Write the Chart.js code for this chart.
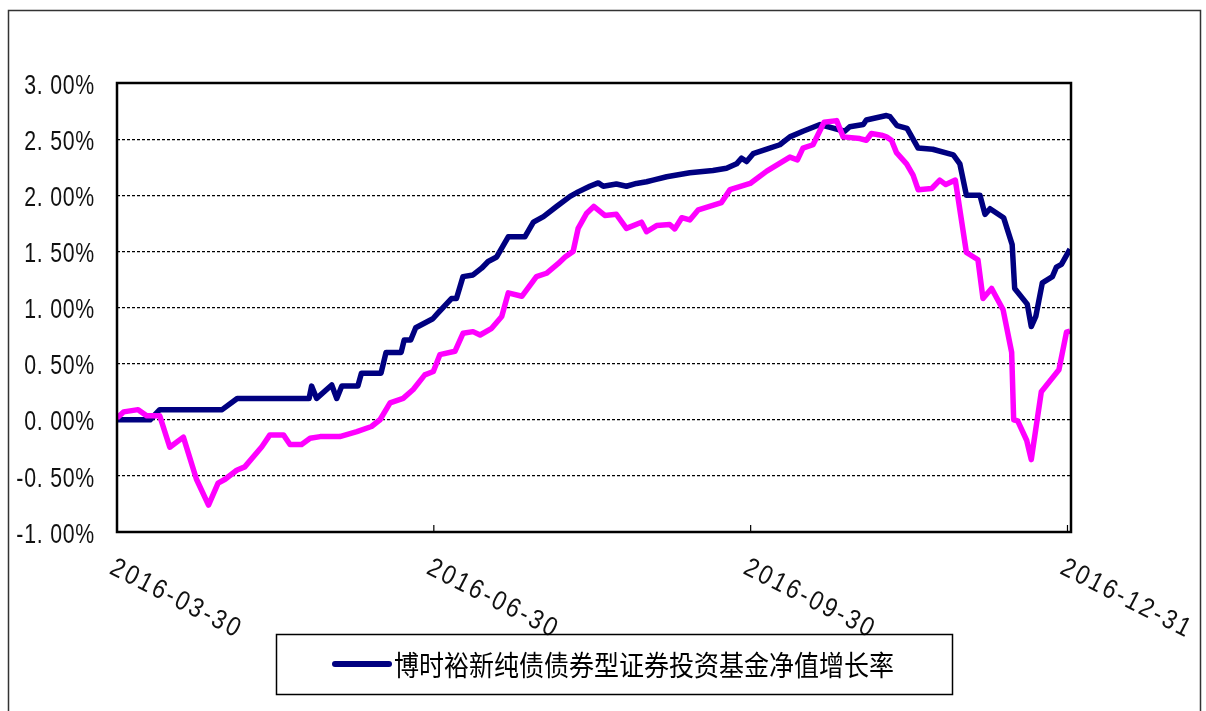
<!DOCTYPE html>
<html>
<head>
<meta charset="utf-8">
<script src="https://cdn.jsdelivr.net/npm/chart.js@4"></script>
<style>
html,body{margin:0;padding:0;background:#fff;}
#wrap{width:1206px;height:711px;position:relative;}
</style>
</head>
<body>
<div id="wrap"><canvas id="c" width="1206" height="711"></canvas></div>
<script>
// ---- data (percent, x = trading-day index from 2016-03-30) ----
const tickDates = ['2016-03-30', '2016-06-30', '2016-09-30', '2016-12-31'];
const tickPos = [0, 63, 126, 189];
const xMax = 189.7;

const fundLabel = '博时裕新纯债债券型证券投资基金净值增长率';
const benchLabel = '业绩比较基准收益率';

const fundX = [0,6.6,8.5,20.9,23.9,38.2,38.7,39.7,42.7,43.7,44.7,47.9,48.6,52.5,53.5,56.5,57.1,58.4,59.4,62.8,
  63.8,66.5,67.5,68.8,70.8,72.5,73.8,75.5,77.8,81.1,82.8,84.8,87.4,90.1,91.7,94.0,95.7,96.7,99.3,101.3,
  103.3,105.3,106.6,109.3,111.3,113.9,118.5,121.2,123.2,124.2,125.2,126.5,129.2,131.8,133.8,136.4,139.8,144.7,145.7,148.4,
  149.0,153.0,153.7,155.1,157.1,159.3,162.2,166.3,167.6,168.9,171.6,172.6,173.6,176.3,178.0,178.5,181.0,181.8,182.7,184.0,
  186.0,186.8,187.8,189.5];
const fundY = [0,0,0.09,0.09,0.19,0.19,0.30,0.19,0.31,0.19,0.30,0.30,0.415,0.415,0.60,0.60,0.71,0.71,0.82,0.90,
  0.95,1.08,1.08,1.275,1.29,1.35,1.41,1.45,1.63,1.63,1.76,1.81,1.90,1.99,2.03,2.08,2.11,2.08,2.10,2.08,
  2.105,2.12,2.135,2.165,2.18,2.20,2.22,2.24,2.28,2.33,2.30,2.37,2.41,2.45,2.52,2.57,2.63,2.57,2.61,2.63,
  2.67,2.71,2.70,2.62,2.595,2.42,2.41,2.36,2.28,2.00,2.00,1.83,1.88,1.80,1.56,1.17,1.03,0.83,0.92,1.22,
  1.275,1.36,1.385,1.52];

const benchX = [0,1.3,4.2,5.9,8.5,10.5,13.2,15.8,18.2,20.1,21.5,23.8,25.4,28.8,30.4,33.1,34.4,36.7,38.4,40.4,
  44.3,47.7,50.6,52.3,54.3,56.9,58.9,61.2,62.9,64.2,67.2,68.8,70.8,72.2,74.5,76.5,77.8,80.5,83.4,85.4,
  87.7,89.1,90.7,91.7,93.4,94.8,97.0,99.3,101.3,104.3,105.3,107.3,109.9,110.9,112.3,113.9,115.6,120.2,121.9,125.9,
  129.2,133.8,135.3,136.4,138.4,140.6,143.1,144.4,147.7,149.0,150.0,152.0,153.0,154.0,155.0,157.0,158.3,159.3,162.0,163.6,
  164.8,166.7,168.9,171.2,172.2,173.9,176.2,177.9,178.3,179.1,180.9,181.8,183.8,187.3,188.8,189.5];
const benchY = [0.015,0.07,0.09,0.035,0.035,-0.245,-0.155,-0.53,-0.76,-0.565,-0.53,-0.45,-0.42,-0.24,-0.135,-0.135,-0.22,-0.22,-0.165,-0.15,
  -0.15,-0.105,-0.06,0.00,0.15,0.19,0.27,0.40,0.43,0.58,0.61,0.77,0.785,0.755,0.815,0.92,1.13,1.10,1.275,1.305,
  1.39,1.45,1.50,1.705,1.84,1.90,1.82,1.83,1.705,1.76,1.675,1.73,1.74,1.70,1.80,1.78,1.87,1.935,2.05,2.105,
  2.215,2.34,2.315,2.42,2.45,2.65,2.665,2.52,2.505,2.49,2.55,2.535,2.52,2.49,2.38,2.28,2.18,2.05,2.06,2.135,
  2.095,2.135,1.49,1.425,1.08,1.17,0.98,0.60,0.00,-0.01,-0.185,-0.355,0.25,0.445,0.78,0.79];

const yMin = -1, yMax = 3, yStep = 0.5;

// ---- decoration plugin: plot frame, tick labels (condensed), legend box ----
const decor = {
  id: 'decor',
  afterDraw(chart) {
    const {ctx, chartArea: a} = chart;
    const xs = chart.scales.x;
    const ys = chart.scales.y;
    ctx.save();
    // outer frame
    ctx.strokeStyle = '#333';
    ctx.lineWidth = 1.5;
    ctx.beginPath();
    ctx.moveTo(8.5, 720); ctx.lineTo(8.5, 10.5); ctx.lineTo(1200.5, 10.5); ctx.lineTo(1200.5, 720);
    ctx.stroke();
    // plot border
    ctx.strokeStyle = '#000';
    ctx.lineWidth = 2.5;
    ctx.strokeRect(a.left, a.top, a.right - a.left, a.bottom - a.top);
    // y tick labels (tall, narrow glyphs)
    ys.ticks.forEach(t => {
      const py = ys.getPixelForValue(t.value);
      ctx.save();
      ctx.translate(95, py + 3);
      ctx.scale(0.76, 1);
      ctx.font = '28px "Liberation Sans", Arial, sans-serif';
      try { ctx.letterSpacing = '1px'; } catch (e) {}
      ctx.fillStyle = '#111';
      ctx.textAlign = 'right';
      ctx.textBaseline = 'middle';
      ctx.fillText(t.label, 0, 0);
      ctx.restore();
    });
    // x ticks + rotated labels
    ctx.lineWidth = 1.2;
    tickPos.forEach((v, i) => {
      const px = xs.getPixelForValue(v);
      if (i > 0) {
        ctx.beginPath(); ctx.moveTo(px, a.bottom); ctx.lineTo(px, a.bottom - 7); ctx.stroke();
      }
      ctx.save();
      ctx.translate(px, 556);
      ctx.rotate(27 * Math.PI / 180);
      ctx.scale(0.86, 1);
      ctx.font = '27px "Liberation Sans", Arial, sans-serif';
      try { ctx.letterSpacing = '3px'; } catch (e) {}
      ctx.textAlign = 'left';
      ctx.textBaseline = 'alphabetic';
      ctx.fillStyle = '#111';
      ctx.fillText(tickDates[i], 0, 19);
      ctx.restore();
    });
    // legend
    const ds = chart.data.datasets.find(d => d.label === fundLabel);
    ctx.lineWidth = 1.5;
    ctx.strokeStyle = '#000';
    ctx.strokeRect(276.5, 634.5, 676, 60);
    ctx.beginPath();
    ctx.strokeStyle = ds.borderColor;
    ctx.lineWidth = 6;
    ctx.lineCap = 'round';
    ctx.moveTo(335, 664); ctx.lineTo(389, 664);
    ctx.stroke();
    ctx.save();
    ctx.translate(394, 665);
    ctx.scale(1, 1.12);
    ctx.font = '25px "Noto Sans CJK SC", sans-serif';
    ctx.fillStyle = '#000';
    ctx.textAlign = 'left';
    ctx.textBaseline = 'middle';
    ctx.fillText(ds.label, 0, 0);
    ctx.restore();
    ctx.restore();
  }
};

new Chart(document.getElementById('c'), {
  type: 'line',
  data: {
    datasets: [
      {
        label: fundLabel,
        data: fundX.map((x, i) => ({x, y: fundY[i]})),
        borderColor: '#000080',
        borderWidth: 5.5,
        pointRadius: 0,
        tension: 0,
        borderJoinStyle: 'round',
        fill: false,
        order: 1
      },
      {
        label: benchLabel,
        data: benchX.map((x, i) => ({x, y: benchY[i]})),
        borderColor: '#FF00FF',
        borderWidth: 5.5,
        pointRadius: 0,
        tension: 0,
        borderJoinStyle: 'round',
        fill: false,
        order: 0
      }
    ]
  },
  options: {
    responsive: false,
    animation: false,
    events: [],
    layout: {padding: {top: 83, bottom: 179, right: 135, left: 0}},
    scales: {
      x: {
        type: 'linear',
        min: 0,
        max: xMax,
        display: false
      },
      y: {
        type: 'linear',
        position: 'left',
        min: yMin,
        max: yMax,
        afterFit(scale) { scale.width = 117; },
        ticks: {
          stepSize: yStep,
          padding: 22,
          color: 'rgba(0,0,0,0)',
          font: {family: '"Liberation Sans", sans-serif', size: 20},
          callback: (v) => v.toFixed(2).replace('.', '. ') + '%'
        },
        grid: {color: '#000', lineWidth: 1.2, drawTicks: false},
        border: {display: false, dash: [3, 2]}
      }
    },
    plugins: {
      legend: {display: false},
      tooltip: {enabled: false}
    }
  },
  plugins: [decor]
});
</script>
</body>
</html>
